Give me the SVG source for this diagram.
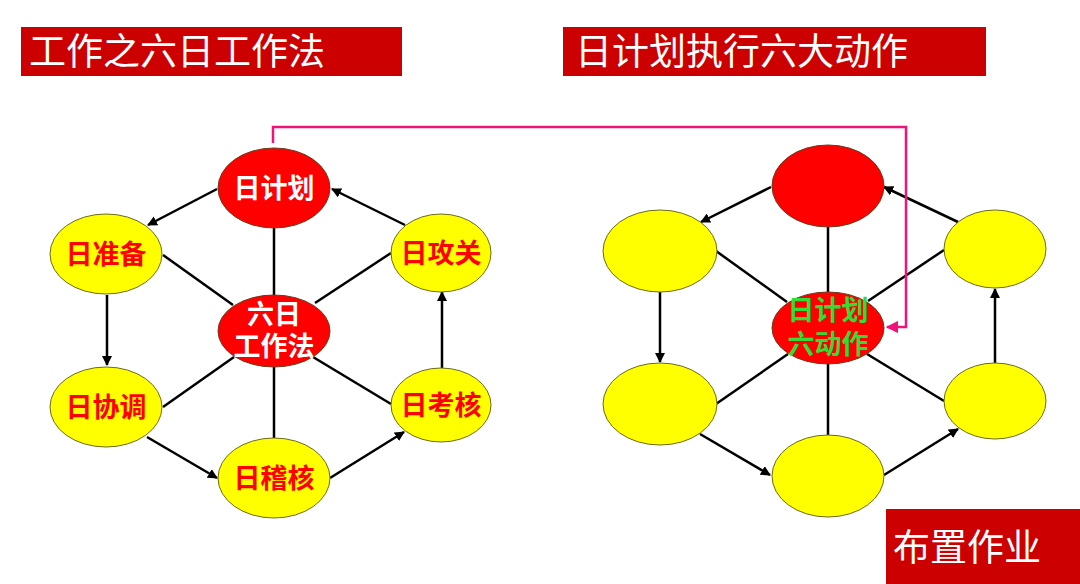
<svg xmlns="http://www.w3.org/2000/svg" width="1080" height="584" viewBox="0 0 1080 584">
<defs>
<marker id="ah" viewBox="0 0 10 10" refX="9" refY="5" markerWidth="4" markerHeight="4" orient="auto" markerUnits="strokeWidth"><path d="M0,0 L10,5 L0,10 z" fill="#000"/></marker>
<marker id="ahp" viewBox="0 0 10 10" refX="9" refY="5" markerWidth="5" markerHeight="5" orient="auto" markerUnits="strokeWidth"><path d="M0,0 L10,5 L0,10 z" fill="#f0137a"/></marker>
<style>
.bar{fill:#cc0000}
.title{font-family:"Noto Sans CJK SC","Noto Sans",sans-serif;font-size:37px;fill:#fff}
.red{fill:#ff0000;stroke:#6b3a1a;stroke-width:1}
.yel{fill:#ffff00;stroke:#6b6b1a;stroke-width:1}
.lbl{font-family:"Noto Sans CJK SC","Noto Sans",sans-serif;font-size:27px;font-weight:bold;text-anchor:middle}
.lr{fill:#ff0000}
.lw{fill:#fff}
.lg{fill:#33dd33}
.ln{stroke:#000;stroke-width:2.5;fill:none}
.arr{marker-end:url(#ah)}
.pink{stroke:#f0137a;stroke-width:2.5;fill:none;marker-end:url(#ahp)}
</style>
</defs>
<rect width="1080" height="584" fill="#fff"/>
<g id="title1"><rect class="bar" x="21" y="27" width="381" height="49"/><text class="title" x="29" y="65">工作之六日工作法</text></g>
<g id="title2"><rect class="bar" x="563" y="27" width="423" height="49"/><text class="title" x="575" y="65">日计划执行六大动作</text></g>
<g id="title3"><rect class="bar" x="886" y="509" width="194" height="75"/><text class="title" x="893" y="561">布置作业</text></g>
<g id="connectors">
<line class="ln" x1="274" y1="228" x2="274" y2="295"/>
<line class="ln" x1="274" y1="367" x2="274" y2="438"/>
<line class="ln" x1="163" y1="255" x2="233" y2="305"/>
<line class="ln" x1="391" y1="253" x2="315" y2="303"/>
<line class="ln" x1="163" y1="407" x2="234" y2="357"/>
<line class="ln" x1="391" y1="404" x2="313" y2="357"/>
<line class="ln arr" x1="217" y1="189" x2="148" y2="225"/>
<line class="ln arr" x1="405" y1="225" x2="332" y2="189"/>
<line class="ln arr" x1="107" y1="295" x2="107" y2="365"/>
<line class="ln arr" x1="147" y1="437" x2="217" y2="478"/>
<line class="ln arr" x1="330" y1="478" x2="404" y2="432"/>
<line class="ln arr" x1="442" y1="368" x2="442" y2="292"/>
<line class="ln" x1="828" y1="227" x2="828" y2="292"/>
<line class="ln" x1="828" y1="364" x2="828" y2="435"/>
<line class="ln" x1="716" y1="251" x2="787" y2="302"/>
<line class="ln" x1="944" y1="250" x2="868" y2="301"/>
<line class="ln" x1="716" y1="404" x2="788" y2="354"/>
<line class="ln" x1="944" y1="401" x2="867" y2="354"/>
<line class="ln arr" x1="771" y1="187" x2="701" y2="222"/>
<line class="ln arr" x1="958" y1="222" x2="884" y2="187"/>
<line class="ln arr" x1="660" y1="292" x2="660" y2="362"/>
<line class="ln arr" x1="700" y1="434" x2="770" y2="475"/>
<line class="ln arr" x1="884" y1="475" x2="958" y2="429"/>
<line class="ln arr" x1="995" y1="363" x2="995" y2="289"/>
<polyline class="pink" points="273,143 273,127 906,127 906,327 887,327"/>
</g>
<g id="n-jihua"><ellipse class="red" cx="274" cy="188" rx="56" ry="40"/><text class="lbl lw" x="274" y="198">日计划</text></g>
<g id="n-zhunbei"><ellipse class="yel" cx="106" cy="254" rx="56" ry="40"/><text class="lbl lr" x="106" y="264">日准备</text></g>
<g id="n-gongguan"><ellipse class="yel" cx="441" cy="253" rx="50" ry="39"/><text class="lbl lr" x="441" y="263">日攻关</text></g>
<g id="n-center"><ellipse class="red" cx="274" cy="331" rx="56" ry="36"/><text class="lbl lw" x="274" y="324">六日</text><text class="lbl lw" x="274" y="356">工作法</text></g>
<g id="n-xietiao"><ellipse class="yel" cx="106" cy="407" rx="56" ry="40"/><text class="lbl lr" x="106" y="417">日协调</text></g>
<g id="n-kaohe"><ellipse class="yel" cx="441" cy="405" rx="50" ry="37"/><text class="lbl lr" x="441" y="415">日考核</text></g>
<g id="n-jihe"><ellipse class="yel" cx="274" cy="478" rx="56" ry="40"/><text class="lbl lr" x="274" y="488">日稽核</text></g>
<g id="r-top"><ellipse class="red" cx="828" cy="186" rx="56" ry="41"/></g>
<g id="r-ul"><ellipse class="yel" cx="660" cy="251" rx="57" ry="41"/></g>
<g id="r-ur"><ellipse class="yel" cx="995" cy="249" rx="51" ry="39"/></g>
<g id="r-center"><ellipse class="red" cx="828" cy="328" rx="56" ry="36"/><text class="lbl lg" x="828" y="320">日计划</text><text class="lbl lg" x="828" y="354">六动作</text></g>
<g id="r-ll"><ellipse class="yel" cx="660" cy="404" rx="57" ry="41"/></g>
<g id="r-lr"><ellipse class="yel" cx="995" cy="401" rx="51" ry="38"/></g>
<g id="r-bottom"><ellipse class="yel" cx="828" cy="476" rx="56" ry="41"/></g>
</svg>
